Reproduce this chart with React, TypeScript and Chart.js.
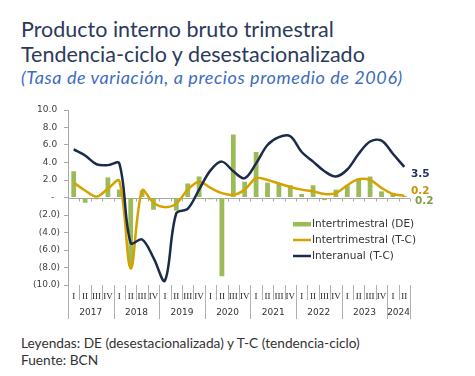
import React, { useEffect, useRef } from "react";
import { Chart, registerables } from "chart.js";

Chart.register(...registerables);

const quarters = [
  "I", "II", "III", "IV", "I", "II", "III", "IV", "I", "II", "III", "IV",
  "I", "II", "III", "IV", "I", "II", "III", "IV", "I", "II", "III", "IV",
  "I", "II", "III", "IV", "I", "II",
];
const years = ["2017", "2018", "2019", "2020", "2021", "2022", "2023", "2024"];
const quartersPerYear = [4, 4, 4, 4, 4, 4, 4, 2];

const intertrimestralDE = [
  3.0, -0.6, -0.2, 2.3, 0.9, -7.8, 0.8, -1.4, -0.1, -1.5, 1.6, 2.4,
  -0.2, -9.0, 7.2, 1.8, 5.2, 1.7, 1.6, 1.4, 0.4, 1.4, -0.3, 0.9,
  1.4, 2.0, 2.4, 0.7, 0.5, 0.2,
];
const intertrimestralTC = [
  1.7, 0.8, 0.1, 1.0, 1.9, -8.1, 0.8, -0.6, -1.1, -0.7, 0.9, 1.8,
  1.1, 0.5, 0.3, 0.9, 2.2, 2.0, 1.6, 1.2, 0.9, 0.7, 0.4, 0.5,
  1.4, 2.1, 2.0, 1.1, 0.4, 0.2,
];
const interanualTC = [
  5.5, 4.8, 3.8, 3.7, 3.9, -5.2, -4.8, -6.9, -9.5, -1.8, -1.3, 0.9,
  3.1, 4.1, 3.0, 2.2, 3.9, 6.0, 6.9, 7.0, 5.2, 4.1, 3.0, 2.4,
  3.2, 5.0, 6.4, 6.5, 5.0, 3.5,
];

const seriesLabels = ["Intertrimestral (DE)", "Intertrimestral (T-C)", "Interanual (T-C)"];
const GREEN = "#9bbb59";
const GOLD = "#d6a200";
const NAVY = "#1c2b4a";

const fmtTick = (v: number) =>
  v === 0 ? "-  " : v < 0 ? `(${Math.abs(v).toFixed(1)})` : `${v.toFixed(1)} `;

const decorPlugin = {
  id: "decor",
  beforeDatasetsDraw(chart: any) {
    const { ctx, chartArea, scales } = chart;
    const x = scales.x;
    const y = scales.y;
    const y0 = Math.round(y.getPixelForValue(0)) + 0.5;
    ctx.save();
    ctx.strokeStyle = "#a6a6a6";
    ctx.lineWidth = 1;
    ctx.beginPath();
    ctx.moveTo(chartArea.left, y0);
    ctx.lineTo(chartArea.right, y0);
    for (let k = 1; k <= quarters.length; k++) {
      const px = Math.round(x.getPixelForValue(k - 0.5)) + 0.5;
      ctx.moveTo(px, y0);
      ctx.lineTo(px, y0 + 3);
    }
    ctx.stroke();
    ctx.restore();
  },
  afterDraw(chart: any) {
    const { ctx, chartArea, scales } = chart;
    const x = scales.x;
    const y = scales.y;
    const bottom = chartArea.bottom;
    ctx.save();
    ctx.strokeStyle = "#b0b0b0";
    ctx.lineWidth = 1;
    const yearStarts: number[] = [];
    let acc = 0;
    quartersPerYear.forEach((n) => {
      yearStarts.push(acc);
      acc += n;
    });
    ctx.beginPath();
    for (let k = 0; k <= quarters.length; k++) {
      const px = Math.round(x.getPixelForValue(k - 0.5)) + 0.5;
      const isYear = yearStarts.includes(k) || k === quarters.length;
      ctx.moveTo(px, bottom);
      ctx.lineTo(px, bottom + (isYear ? 34 : 15));
    }
    ctx.stroke();
    ctx.fillStyle = "#333";
    ctx.font = "9px 'DejaVu Sans'";
    ctx.textAlign = "center";
    ctx.textBaseline = "middle";
    years.forEach((yr, i) => {
      const s = yearStarts[i];
      const e = s + quartersPerYear[i];
      const cx = (x.getPixelForValue(s - 0.5) + x.getPixelForValue(e - 0.5)) / 2;
      ctx.fillText(yr, cx, bottom + 28);
    });
    const ds = chart.data.datasets;
    const lx = 293;
    const rows = [chartArea.top + 114, chartArea.top + 130, chartArea.top + 146];
    ctx.textAlign = "left";
    ctx.font = "10.5px 'DejaVu Sans'";
    ds.forEach((d: any, i: number) => {
      const ry = rows[i];
      if (d.type === "bar") {
        ctx.fillStyle = d.backgroundColor;
        ctx.fillRect(lx, ry - 2, 18, 4.5);
      } else {
        ctx.strokeStyle = d.borderColor;
        ctx.lineWidth = 2.5;
        ctx.beginPath();
        ctx.moveTo(lx, ry);
        ctx.lineTo(lx + 18, ry);
        ctx.stroke();
      }
      ctx.fillStyle = "#333";
      ctx.fillText(d.label, lx + 19, ry + 0.5);
    });
    const last = quarters.length - 1;
    ctx.font = "bold 10.5px 'DejaVu Sans'";
    ctx.textBaseline = "middle";
    ctx.fillStyle = "#1f3260";
    ctx.fillText(interanualTC[last].toFixed(1), chartArea.right + 1, y.getPixelForValue(interanualTC[last]) + 7);
    ctx.fillStyle = "#d08f00";
    ctx.fillText(intertrimestralTC[last].toFixed(1), chartArea.right + 1, y.getPixelForValue(intertrimestralTC[last]) - 4);
    ctx.fillStyle = "#7f9f45";
    ctx.fillText(intertrimestralDE[last].toFixed(1), chartArea.right + 5, y.getPixelForValue(intertrimestralDE[last]) + 6);
    ctx.restore();
  },
};

export default function App() {
  const ref = useRef<HTMLCanvasElement>(null);
  useEffect(() => {
    if (!ref.current) return;
    const chart = new Chart(ref.current, {
      type: "bar",
      data: {
        labels: quarters,
        datasets: [
          {
            type: "bar",
            label: seriesLabels[0],
            data: intertrimestralDE,
            backgroundColor: GREEN,
            borderWidth: 0,
            barPercentage: 0.42,
            categoryPercentage: 1,
            order: 3,
          } as any,
          {
            type: "line",
            label: seriesLabels[1],
            data: intertrimestralTC,
            borderColor: GOLD,
            backgroundColor: GOLD,
            borderWidth: 2.5,
            pointRadius: 0,
            tension: 0.35,
            order: 2,
          },
          {
            type: "line",
            label: seriesLabels[2],
            data: interanualTC,
            borderColor: NAVY,
            backgroundColor: NAVY,
            borderWidth: 2.5,
            pointRadius: 0,
            tension: 0.35,
            order: 1,
          },
        ],
      },
      options: {
        responsive: false,
        animation: false,
        layout: { padding: { top: 10, right: 65, left: 0, bottom: 0 } },
        plugins: { legend: { display: false }, tooltip: { enabled: false } },
        scales: {
          x: {
            grid: { display: false, drawTicks: false },
            border: { display: false },
            ticks: {
              autoSkip: false,
              maxRotation: 0,
              minRotation: 0,
              padding: 6,
              color: "#222",
              font: { family: "'Liberation Serif', serif", size: 9 },
            },
            afterFit: (s: any) => {
              s.height = 37;
            },
          },
          y: {
            min: -10,
            max: 10,
            ticks: {
              stepSize: 2,
              padding: 4,
              color: "#404040",
              font: { family: "'DejaVu Sans'", size: 9 },
              callback: (v: any) => fmtTick(Number(v)),
            },
            grid: { drawOnChartArea: false, tickLength: 4, color: "#a6a6a6" },
            border: { display: true, color: "#a6a6a6" },
            afterFit: (s: any) => {
              s.width = 68;
            },
          },
        },
      },
      plugins: [decorPlugin],
    });
    return () => chart.destroy();
  }, []);

  return (
    <div
      style={{
        position: "absolute",
        left: 0,
        top: 0,
        width: 475,
        height: 376,
        background: "#fff",
        overflow: "hidden",
      }}
    >
      <div
        style={{
          position: "absolute",
          left: 21,
          top: 17,
          fontFamily: "Lato, sans-serif",
          fontSize: 21.5,
          lineHeight: "25px",
          color: "#2b3a5c",
          whiteSpace: "nowrap",
        }}
      >
        Producto interno bruto trimestral
        <br />
        Tendencia-ciclo y desestacionalizado
      </div>
      <div
        style={{
          position: "absolute",
          left: 21,
          top: 67,
          fontFamily: "Lato, sans-serif",
          fontStyle: "italic",
          fontSize: 18,
          letterSpacing: "0.6px",
          lineHeight: "20px",
          color: "#3d6cc0",
          whiteSpace: "nowrap",
        }}
      >
        (Tasa de variación, a precios promedio de 2006)
      </div>
      <div style={{ position: "absolute", left: 0, top: 100, width: 475, height: 222 }}>
        <canvas ref={ref} width={475} height={222} />
      </div>
      <div
        style={{
          position: "absolute",
          left: 21,
          top: 334,
          fontFamily: "Lato, sans-serif",
          fontSize: 13.7,
          lineHeight: "17px",
          color: "#333",
          whiteSpace: "nowrap",
        }}
      >
        Leyendas: DE (desestacionalizada) y T-C (tendencia-ciclo)
        <br />
        Fuente: BCN
      </div>
    </div>
  );
}
